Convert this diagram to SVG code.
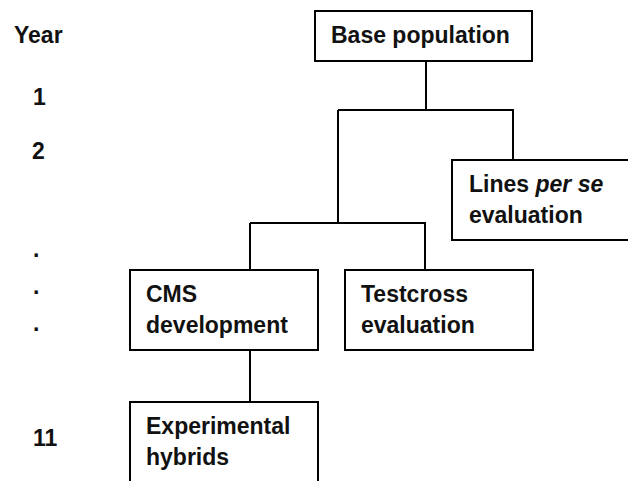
<svg xmlns="http://www.w3.org/2000/svg" width="628" height="481" viewBox="0 0 628 481">
<style>
.box{fill:#fff;stroke:#000;stroke-width:2}
.ln{fill:none;stroke:#000;stroke-width:2}
text{font-family:"Liberation Sans",Arial,sans-serif;font-weight:bold;font-size:23px;fill:#111}
</style>
<rect width="628" height="481" fill="#fff"/>
<g id="years">
<text x="14" y="43">Year</text>
<text x="33" y="105">1</text>
<text x="32" y="159">2</text>
<text x="33" y="257">.</text>
<text x="33" y="294">.</text>
<text x="33" y="331">.</text>
<text x="33" y="446">11</text>
</g>
<g id="connectors">
<path class="ln" d="M426 61V110M338 110H513V160M338 110V223M250 223H425V270M250 223V270M250 351V402"/>
</g>
<g id="base">
<rect class="box" x="315" y="11" width="217" height="50"/>
<text x="331" y="43">Base population</text>
</g>
<g id="lines">
<rect class="box" x="452" y="160" width="190" height="80"/>
<text x="469" y="192">Lines <tspan font-style="italic">per se</tspan></text>
<text x="469" y="223">evaluation</text>
</g>
<g id="cms">
<rect class="box" x="130" y="270" width="188" height="80"/>
<text x="146" y="302">CMS</text>
<text x="146" y="333">development</text>
</g>
<g id="testcross">
<rect class="box" x="345" y="270" width="188" height="80"/>
<text x="361" y="302">Testcross</text>
<text x="361" y="333">evaluation</text>
</g>
<g id="hybrids">
<rect class="box" x="130" y="402" width="188" height="100"/>
<text x="146" y="434">Experimental</text>
<text x="146" y="465">hybrids</text>
</g>
</svg>
